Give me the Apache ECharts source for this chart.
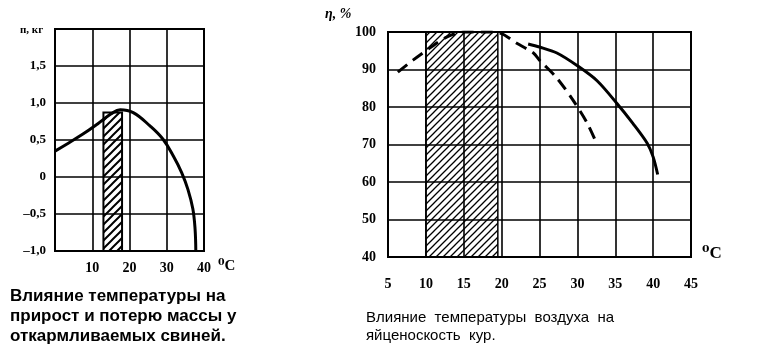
<!DOCTYPE html>
<html><head><meta charset="utf-8">
<script src="https://cdn.jsdelivr.net/npm/echarts@6/dist/echarts.min.js"></script>
<style>html,body{margin:0;padding:0;background:#fff}#c{width:769px;height:364px}</style>
</head><body><div id="c"></div>
<script>
// Left chart: pig weight gain/loss vs temperature
const pigCurve = [[0,0.35],[3,0.44],[7.5,0.58],[11.5,0.72],[15,0.85],[17.5,0.91],[21,0.87],[25.5,0.69],[29,0.51],[31.8,0.28],[34,0.06],[35.7,-0.17],[37,-0.43],[37.6,-0.7],[37.8,-1.0]];
const pigOptimum = [13, 18];     // hatched x range
const pigOptimumTop = 0.87;
const leftXTicks = [0,10,20,30,40];
const leftYTicks = [-1,-0.5,0,0.5,1,1.5,2];

// Right chart: hen egg production vs air temperature
const henSolid = [[23.5,96.8],[25,96],[27.3,94.4],[30,91],[32.6,87],[35.2,81],[37.3,75.7],[39.2,70.4],[40,66.7],[40.6,62]];
const henDashed = [[6.3,89.3],[8.3,92.5],[10.5,95.7],[12.8,98.7],[15,100],[18,100],[19.8,99.7],[22,97],[24.2,94.4],[25,92.5],[27.3,87.7],[29.4,81.9],[31.3,75.7],[32.6,70]];
const henOptimum = [10, 19.5];
const rightXTicks = [5,10,15,20,25,30,35,40,45];
const rightYTicks = [40,50,60,70,80,90,100];

function hatch(s, lw){
  const c=document.createElement('canvas'); c.width=s; c.height=s;
  const g=c.getContext('2d');
  g.strokeStyle='#000'; g.lineWidth=lw; g.beginPath();
  g.moveTo(0,s); g.lineTo(s,0);
  g.moveTo(-s/2,s/2); g.lineTo(s/2,-s/2);
  g.moveTo(s/2,s*1.5); g.lineTo(s*1.5,s/2);
  g.stroke(); return c;
}
const serif = "'Liberation Serif','DejaVu Serif',serif";
const sans = "'Liberation Sans',Arial,sans-serif";
function fmtComma(v){ if(v===2) return ''; if(v===0) return '0'; let s=Math.abs(v).toFixed(1).replace('.',','); return (v<0?'\u2013':'')+s; }

const chart = echarts.init(document.getElementById('c'), null, {renderer:'canvas'});
chart.setOption({
  animation:false,
  backgroundColor:'#fff',
  grid:[
    {left:55, top:29, width:149, height:222, show:true, borderColor:'#000', borderWidth:2, backgroundColor:'transparent'},
    {left:388, top:32, width:303, height:225, show:true, borderColor:'#000', borderWidth:2, backgroundColor:'transparent'}
  ],
  xAxis:[
    {gridIndex:0, type:'value', min:leftXTicks[0], max:leftXTicks[leftXTicks.length-1], interval:10,
     axisLine:{show:false}, axisTick:{show:false},
     splitLine:{show:true, lineStyle:{color:'#000', width:1.6}},
     axisLabel:{margin:10, fontFamily:serif, fontWeight:'bold', fontSize:14, color:'#000', formatter:v=>v===0?'':String(v)}},
    {gridIndex:1, type:'value', min:rightXTicks[0], max:rightXTicks[rightXTicks.length-1], interval:5,
     axisLine:{show:false}, axisTick:{show:false},
     splitLine:{show:true, lineStyle:{color:'#000', width:1.6}},
     axisLabel:{margin:20, showMinLabel:true, showMaxLabel:true, fontFamily:serif, fontWeight:'bold', fontSize:14, color:'#000'}}
  ],
  yAxis:[
    {gridIndex:0, type:'value', min:leftYTicks[0], max:leftYTicks[leftYTicks.length-1], interval:0.5,
     axisLine:{show:false}, axisTick:{show:false},
     splitLine:{show:true, lineStyle:{color:'#000', width:1.6}},
     axisLabel:{margin:9, fontFamily:serif, fontWeight:'bold', fontSize:13, color:'#000', formatter:fmtComma}},
    {gridIndex:1, type:'value', min:rightYTicks[0], max:rightYTicks[rightYTicks.length-1], interval:10,
     axisLine:{show:false}, axisTick:{show:false},
     splitLine:{show:true, lineStyle:{color:'#000', width:1.6}},
     axisLabel:{margin:12, showMinLabel:true, showMaxLabel:true, fontFamily:serif, fontWeight:'bold', fontSize:14, color:'#000'}}
  ],
  series:[
    {type:'line', xAxisIndex:0, yAxisIndex:0, data:pigCurve, smooth:0.4, showSymbol:false, z:5,
     lineStyle:{color:'#000', width:3},
     markArea:{silent:true, itemStyle:{color:{image:hatch(8,2), repeat:'repeat'}, borderColor:'#000', borderWidth:2},
       data:[[{coord:[pigOptimum[0], leftYTicks[0]]},{coord:[pigOptimum[1], pigOptimumTop]}]]}},
    {type:'line', xAxisIndex:1, yAxisIndex:1, data:henSolid, smooth:0.3, showSymbol:false, z:5,
     lineStyle:{color:'#000', width:3},
     markArea:{silent:true, z:1, itemStyle:{color:{image:hatch(7,1.3), repeat:'repeat'}, borderColor:'#000', borderWidth:1.5},
       data:[[{coord:[henOptimum[0], rightYTicks[0]]},{coord:[henOptimum[1], rightYTicks[rightYTicks.length-1]]}]]}},
    {type:'line', xAxisIndex:1, yAxisIndex:1, data:henDashed, smooth:0.3, showSymbol:false, z:5,
     lineStyle:{color:'#000', width:3, type:[12,7]}}
  ],
  graphic:[
    {type:'text', left:20, top:25, style:{text:'п, кг', font:"bold 11px "+serif, fill:'#000'}},
    {type:'text', left:325, top:7, style:{text:'η, %', font:"bold italic 14px "+serif, fill:'#000'}},
    {type:'text', left:218, top:259, style:{text:'⁰C', font:"bold 15px "+serif, fill:'#000'}},
    {type:'text', left:702, top:245, style:{text:'⁰C', font:"bold 17px "+serif, fill:'#000'}},
    {type:'text', left:10, top:286, style:{text:'Влияние температуры на\nприрост и потерю массы у\nоткармливаемых свиней.', font:"bold 17px "+sans, lineHeight:20, fill:'#000'}},
    {type:'text', left:366, top:309, style:{text:'Влияние  температуры  воздуха  на\nяйценоскость  кур.', font:"15px "+sans, lineHeight:18, fill:'#000'}}
  ]
});
</script></body></html>
